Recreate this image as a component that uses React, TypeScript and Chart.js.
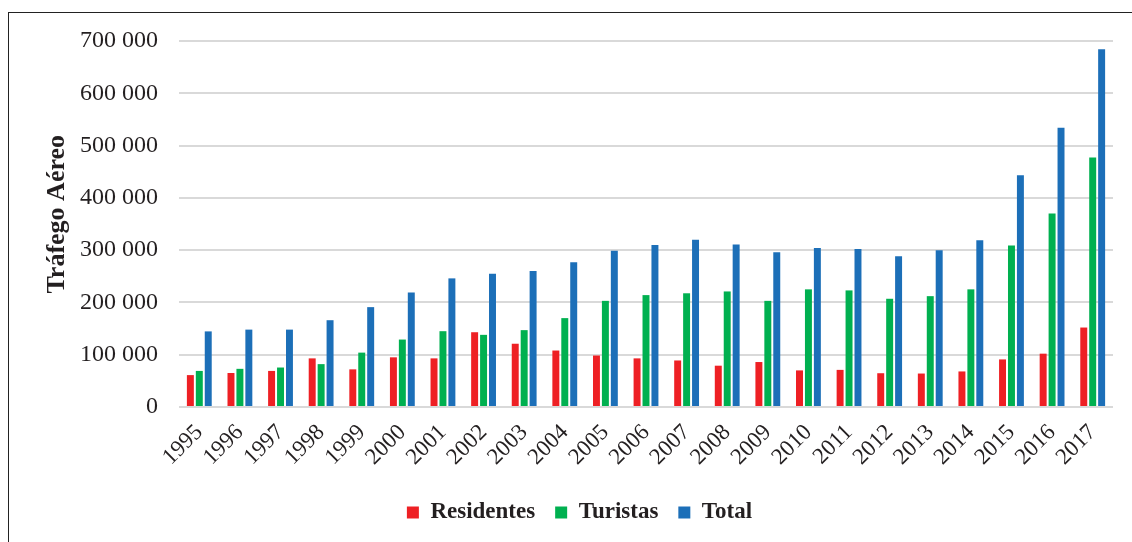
import React, { useEffect, useRef } from "react";
import { Chart, registerables } from "chart.js";

Chart.register(...registerables);

const years = ["1995","1996","1997","1998","1999","2000","2001","2002","2003","2004","2005","2006","2007","2008","2009","2010","2011","2012","2013","2014","2015","2016","2017"];
const residentes = [61000,65000,69000,93000,72000,95000,93000,143000,121000,108000,98500,93000,89000,79000,86000,70000,71000,64600,64000,68000,91000,102000,152000];
const turistas = [69000,73000,75500,82000,104000,129000,145000,138000,147000,170000,203000,214000,217500,221000,203000,225000,223000,207000,212000,225000,309000,370000,477000];
const total = [144600,148000,148000,166000,191000,219000,246000,255000,260000,277000,299000,310000,320000,311000,296000,304000,302000,288500,300000,319000,443000,534000,684000];

const yTicks = [0,100000,200000,300000,400000,500000,600000,700000];
const yTitle = "Tráfego Aéreo";
const seriesNames = ["Residentes", "Turistas", "Total"];

const fmt = (v: number) => String(v).replace(/\B(?=(\d{3})+(?!\d))/g, " ");

const TXT = "#231f20";
const FONT = "'Liberation Serif', 'Times New Roman', serif";

export default function App() {
  const ref = useRef<HTMLCanvasElement | null>(null);
  useEffect(() => {
    if (!ref.current) return;
    const chart = new Chart(ref.current, {
      type: "bar",
      data: {
        labels: years,
        datasets: [
          { label: seriesNames[0], data: residentes, backgroundColor: "#ee2024" },
          { label: seriesNames[1], data: turistas, backgroundColor: "#00b050" },
          { label: seriesNames[2], data: total, backgroundColor: "#1c6fb8" },
        ],
      },
      options: {
        animation: false,
        responsive: false,
        maintainAspectRatio: false,
        datasets: { bar: { categoryPercentage: 0.66, barPercentage: 0.78 } },
        layout: { padding: { left: 46, right: 19, top: 41, bottom: 8 } },
        plugins: {
          tooltip: { enabled: false },
          legend: {
            position: "bottom",
            labels: {
              boxWidth: 12,
              boxHeight: 12,
              padding: 20,
              color: TXT,
              font: { family: FONT, size: 23, weight: "bold" },
            },
          },
        },
        scales: {
          x: {
            grid: { display: false },
            border: { display: false },
            ticks: {
              color: TXT,
              font: { family: FONT, size: 23 },
              minRotation: 45,
              maxRotation: 45,
              padding: 4,
              autoSkip: false,
            },
            afterFit: (s: any) => { s.height = 74; },
          },
          y: {
            min: 0,
            max: 700000,
            afterBuildTicks: (s: any) => { s.ticks = yTicks.map((v) => ({ value: v })); },
            grid: { color: "#d9d9d9", lineWidth: 2, drawTicks: false },
            border: { display: false },
            ticks: {
              color: TXT,
              padding: 21,
              font: { family: FONT, size: 24 },
              callback: (v: any) => fmt(Number(v)),
            },
            title: {
              display: true,
              text: "   " + yTitle,
              color: TXT,
              padding: { top: -4, bottom: 0 },
              font: { family: FONT, size: 26, weight: "bold" },
            },
            afterFit: (s: any) => { s.width = 133; },
          },
        },
      },
    });
    return () => chart.destroy();
  }, []);
  return (
    <div style={{ position: "absolute", left: 0, top: 0, width: 1132, height: 542, overflow: "hidden", background: "#fff" }}>
      <div style={{ position: "absolute", left: 8, top: 12, width: 1200, height: 600, borderLeft: "1.5px solid #222", borderTop: "1.5px solid #222" }} />
      <canvas ref={ref} width={1132} height={542} style={{ position: "absolute", left: 0, top: 0, width: 1132, height: 542 }} />
    </div>
  );
}
